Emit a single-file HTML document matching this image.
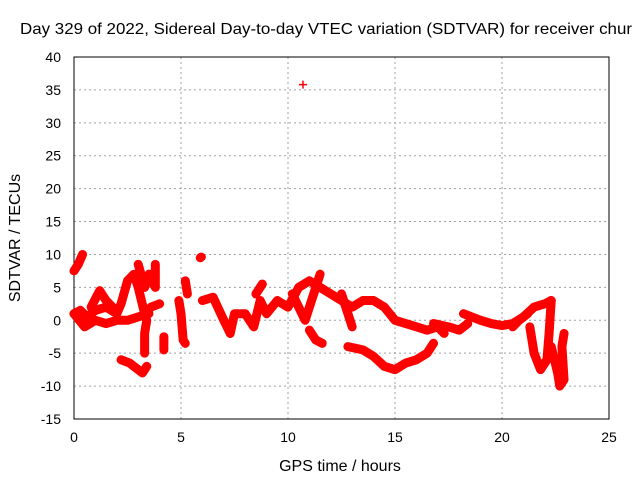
<!DOCTYPE html>
<html><head><meta charset="utf-8"><style>body{margin:0;background:#fff}svg{display:block;font-family:"Liberation Sans",sans-serif}</style></head>
<body>
<svg id="c" width="640" height="480"></svg>
<script>
const xTicks=[0,5,10,15,20,25];
const yTicks=[-15,-10,-5,0,5,10,15,20,25,30,35,40];
const tracks=[
[[0,1],[0.3,1.5],[0.6,0.5],[1,1.5],[1.5,2],[2,1],[2.2,2.5],[2.5,6],[2.8,7],[3,5],[3.3,1],[3.6,2],[4,2.5]],
[[0,1],[0.5,-1],[1,0],[1.5,-0.5],[2,0],[2.5,0],[3,0.5],[3.5,1]],
[[0.8,2],[1.2,4.5],[1.5,3],[1.8,2]],
[[0,7.5],[0.2,8.5],[0.4,10]],
[[2.2,-6],[2.6,-6.5],[3,-7.5],[3.2,-8],[3.4,-7]],
[[3.3,-5],[3.3,-2],[3.4,0]],
[[3.0,8.5],[3.3,5],[3.5,7],[3.8,5],[3.8,8.5]],
[[4.2,-2.5],[4.2,-4.5]],
[[4.9,3],[5.0,1],[5.1,-3],[5.2,-3.5]],
[[5.2,6],[5.3,4]],
[[5.9,9.5],[5.95,9.6]],
[[6.0,3],[6.5,3.5],[7,0],[7.3,-2],[7.5,1],[8,1],[8.4,-1],[8.7,3],[9,1],[9.5,3],[10,2],[10.5,5],[11,6],[11.5,5],[12,4],[12.5,3],[13,2],[13.5,3],[14,3],[14.5,2],[15,0],[15.5,-0.5],[16,-1],[16.5,-1.5],[17,-1],[17.3,-2]],
[[8.5,4],[8.8,5.5]],
[[10.2,4],[10.8,0],[11,2],[11.5,7]],
[[11,-1.5],[11.3,-3],[11.6,-3.5]],
[[12.5,4],[12.8,1],[13,-1]],
[[12.8,-4],[13.5,-4.5],[14,-5.5],[14.5,-7],[15,-7.5],[15.5,-6.5],[16,-6],[16.5,-5],[16.8,-3.5]],
[[16.8,-0.5],[17.5,-1],[18,-1.5],[18.4,-0.5]],
[[18.2,1],[19,0],[19.5,-0.5],[20,-0.8],[20.5,-0.5],[21,0.5],[21.5,2],[22,2.5],[22.3,3]],
[[20.5,-1],[20.8,0],[21.2,1]],
[[21.3,-1],[21.5,-5],[21.8,-7.5],[22.1,-6],[22.2,-2],[22.3,3]],
[[22.3,-4],[22.6,-8],[22.7,-10],[22.9,-9],[22.8,-4],[22.9,-2]],
[[10.7,35.8]]
];
const svg=document.getElementById('c');const NS='http://www.w3.org/2000/svg';
const X0=74,X1=609,Y0=419,Y1=57;
const sx=h=>X0+(h-0)/(25-0)*(X1-X0);
const sy=v=>Y0-(v+15)/(55)*(Y0-Y1);
function mk(t,a){const e=document.createElementNS(NS,t);for(const k in a)e.setAttribute(k,a[k]);svg.appendChild(e);return e;}
let e;
xTicks.forEach(t=>{
 e=mk('line',{x1:sx(t),x2:sx(t),y1:Y0,y2:Y1,stroke:'#a0a0a0','stroke-dasharray':'2,3'});
 
 
 e=mk('text',{x:sx(t),y:Y0+23,'text-anchor':'middle','font-size':14});e.textContent=t;
 
 
});
yTicks.forEach(t=>{
 e=mk('line',{x1:X0,x2:X1,y1:sy(t),y2:sy(t),stroke:'#a0a0a0','stroke-dasharray':'2,3'});
 
 
 e=mk('text',{x:X0-13,y:sy(t)+5,'text-anchor':'end','font-size':14});e.textContent=t;
 
 
});
e=mk('rect',{x:X0,y:Y1,width:X1-X0,height:Y0-Y1,fill:'none',stroke:'#000'});


tracks.forEach(tr=>{
 const pts=tr.map(p=>sx(p[0])+','+sy(p[1])).join(' ');
 e=mk('polyline',{points:pts,fill:'none',stroke:'#ff0000','stroke-width':9,'stroke-linejoin':'round','stroke-linecap':'round'});
 
 
 tr.forEach(p=>{
  const x=sx(p[0]),y=sy(p[1]);
  e=mk('path',{d:`M${x-4},${y}H${x+4}M${x},${y-4}V${y+4}`,stroke:'#ff0000','stroke-width':1.5});
  
  
 });
});
e=mk('text',{x:20,y:34,'font-size':16,textLength:612,lengthAdjust:'spacingAndGlyphs'});e.textContent='Day 329 of 2022, Sidereal Day-to-day VTEC variation (SDTVAR) for receiver chur';


e=mk('text',{x:340,y:471,'text-anchor':'middle','font-size':16});e.textContent='GPS time / hours';


e=mk('text',{x:0,y:0,'text-anchor':'middle','font-size':16,transform:'translate(20,238) rotate(-90)'});e.textContent='SDTVAR / TECUs';


</script>
</body></html>
